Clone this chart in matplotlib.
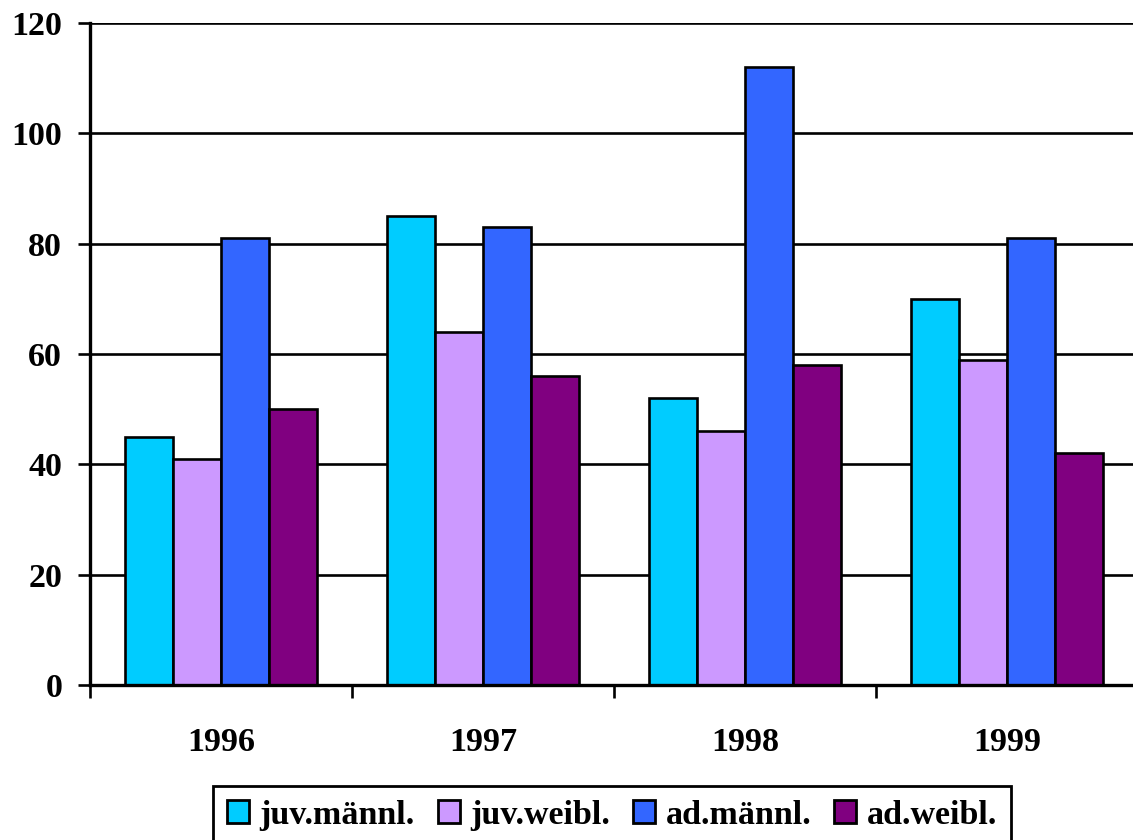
import matplotlib
matplotlib.use("Agg")
import matplotlib.pyplot as plt
import numpy as np

years = ["1996", "1997", "1998", "1999"]
series_names = ["juv.männl.", "juv.weibl.", "ad.männl.", "ad.weibl."]
juv_maennl = [45, 85, 52, 70]
juv_weibl = [41, 64, 46, 59]
ad_maennl = [81, 83, 112, 81]
ad_weibl = [50, 56, 58, 42]
colors = ["#00CCFF", "#CC99FF", "#3366FF", "#800080"]
y_ticks = [0, 20, 40, 60, 80, 100, 120]

plt.rcParams["font.family"] = ["Liberation Serif", "DejaVu Serif"]
plt.rcParams["font.weight"] = "bold"

W, H = 1133, 840
fig = plt.figure(figsize=(W / 100, H / 100), dpi=100)
ax = fig.add_axes([90 / W, 1 - 685 / H, 1048 / W, 662 / H])

x = np.arange(len(years))
bw = 0.183
for k, (vals, name, col) in enumerate(zip([juv_maennl, juv_weibl, ad_maennl, ad_weibl],
                                          series_names, colors)):
    ax.bar(x + (k - 1.5) * bw, vals, width=bw, color=col, edgecolor="black",
           linewidth=1.9, label=name, zorder=3)

ax.set_xlim(-0.5, 3.5)
ax.set_ylim(0, 120)
ax.set_yticks(y_ticks)
ax.set_yticklabels([str(v) for v in y_ticks], fontsize=24.5, fontweight="bold")
ax.yaxis.grid(True, color="black", linewidth=1.9, zorder=0)
ax.set_axisbelow(True)

# category boundaries carry the tick marks, centres carry the labels
ax.set_xticks(np.arange(-0.5, 3.0, 1.0))
ax.set_xticklabels([])
ax.set_xticks(x, minor=True)
ax.set_xticklabels(years, minor=True, fontsize=24.5, fontweight="bold")
ax.tick_params(axis="x", which="major", direction="out", length=9, width=1.9)
ax.tick_params(axis="x", which="minor", length=0, pad=30)
ax.tick_params(axis="y", direction="out", length=9, width=1.9, pad=11)

for side in ["top", "right"]:
    ax.spines[side].set_visible(False)
for side in ["left", "bottom"]:
    ax.spines[side].set_linewidth(2.4)
    ax.spines[side].set_zorder(4)

leg = fig.legend(loc="upper center", bbox_to_anchor=(612 / W, 1 - 786 / H),
                 ncol=4, fontsize=24.5, frameon=True, fancybox=False, framealpha=1,
                 handlelength=0.65, handleheight=0.65, handletextpad=0.3,
                 columnspacing=0.68, borderpad=0.4, borderaxespad=0)
leg.get_frame().set_edgecolor("black")
leg.get_frame().set_linewidth(2.0)
for t in leg.get_texts():
    t.set_fontweight("bold")
for h in leg.legend_handles:
    h.set_linewidth(2.0)

fig.savefig("out.png", dpi=100)
